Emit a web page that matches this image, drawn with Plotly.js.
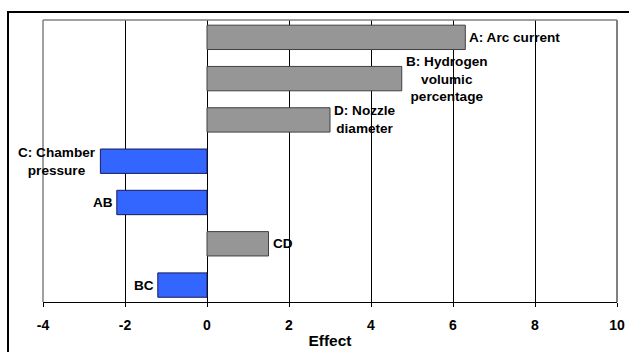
<!DOCTYPE html>
<html>
<head>
<meta charset="utf-8">
<script src="https://cdn.plot.ly/plotly-3.0.1.min.js"></script>
<style>
html,body{margin:0;padding:0;background:#fff;}
#wrap{position:relative;width:629px;height:352px;overflow:hidden;}
#chart{position:absolute;left:0;top:0;width:629px;height:352px;}
#frame{position:absolute;left:7px;top:11px;width:640px;height:360px;border-left:2px solid #000;border-top:2px solid #000;pointer-events:none;}
</style>
</head>
<body>
<div id="wrap"><div id="chart"></div><div id="frame"></div></div>
<script>
var factors = ["A", "B", "D", "C", "AB", "CD", "BC"];
var effects = [6.3, 4.75, 3.0, -2.6, -2.2, 1.5, -1.2];
var labels = ["A: Arc current", "B: Hydrogen<br>volumic<br>percentage", "D: Nozzle<br>diameter", "C: Chamber<br>pressure", "AB", "CD", "BC"];
var xTicks = [-4, -2, 0, 2, 4, 6, 8, 10];

var fillColors = effects.map(function (v) { return v >= 0 ? "#969696" : "#3366FF"; });
var lineColors = effects.map(function (v) { return v >= 0 ? "#404040" : "#1a1a5a"; });

var fam = "Liberation Sans, Arial, sans-serif";
var annFont = {family: fam, size: 13.6, color: "#000", weight: "bold"};
var tickFont = {family: fam, size: 14, color: "#000", weight: "bold"};
var titleFont = {family: fam, size: 15.5, color: "#000", weight: "bold"};

var annotations = factors.map(function (f, i) {
  var pos = effects[i] >= 0;
  return {
    x: effects[i], y: f, xref: "x", yref: "y",
    text: labels[i], showarrow: false,
    xanchor: pos ? "left" : "right", yanchor: "middle",
    xshift: pos ? 2 : -2, align: "center",
    font: annFont
  };
});

var trace = {
  type: "bar", orientation: "h",
  x: effects, y: factors,
  marker: {color: fillColors, line: {color: lineColors, width: 1}},
  hoverinfo: "none"
};

var layout = {
  width: 629, height: 352,
  margin: {l: 43, r: 12, t: 20, b: 50},
  paper_bgcolor: "rgba(0,0,0,0)", plot_bgcolor: "#fff",
  showlegend: false,
  bargap: 0.41,
  font: annFont,
  xaxis: {
    range: [-4, 10], tickvals: xTicks, ticktext: xTicks.map(String),
    showgrid: true, gridcolor: "#000", gridwidth: 1,
    zeroline: true, zerolinecolor: "#000", zerolinewidth: 1,
    showline: true, linecolor: "#000", linewidth: 1,
    ticks: "outside", ticklen: 4, tickcolor: "#000",
    ticklabelstandoff: 6,
    tickfont: tickFont,
    title: {text: "Effect", font: titleFont, standoff: 3},
    fixedrange: true
  },
  yaxis: {
    type: "category", range: [6.41, -0.42],
    showticklabels: false, showgrid: false, zeroline: false, showline: false, ticks: "",
    fixedrange: true
  },
  annotations: annotations,
  shapes: [
    {type: "line", xref: "paper", yref: "paper", x0: 0, x1: 1, y0: 1, y1: 1, line: {color: "#808080", width: 1.5}},
    {type: "line", xref: "paper", yref: "paper", x0: 0, x1: 0, y0: 0, y1: 1, line: {color: "#808080", width: 1.5}},
    {type: "line", xref: "paper", yref: "paper", x0: 1, x1: 1, y0: 0, y1: 1, line: {color: "#808080", width: 2}}
  ]
};

Plotly.newPlot("chart", [trace], layout, {displayModeBar: false, staticPlot: true});
</script>
</body>
</html>
